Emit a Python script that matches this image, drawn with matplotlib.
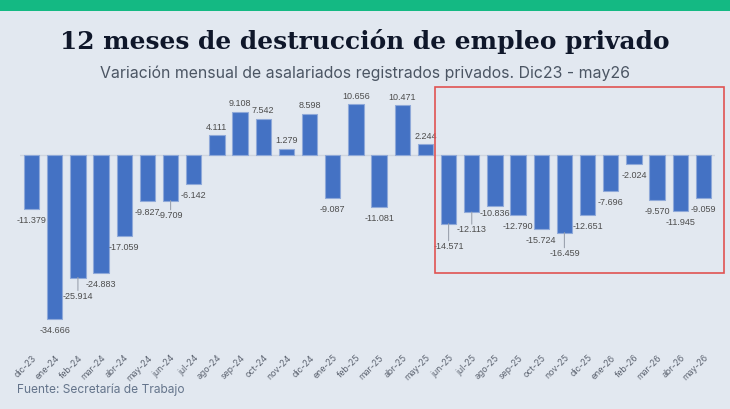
import matplotlib.pyplot as plt
import numpy as np
from matplotlib.patches import Rectangle

months = ["dic-23", "ene-24", "feb-24", "mar-24", "abr-24", "may-24", "jun-24", "jul-24",
          "ago-24", "sep-24", "oct-24", "nov-24", "dic-24", "ene-25", "feb-25", "mar-25",
          "abr-25", "may-25", "jun-25", "jul-25", "ago-25", "sep-25", "oct-25", "nov-25",
          "dic-25", "ene-26", "feb-26", "mar-26", "abr-26", "may-26"]
values = [-11379, -34666, -25914, -24883, -17059, -9827, -9709, -6142,
          4111, 9108, 7542, 1279, 8598, -9087, 10656, -11081,
          10471, 2244, -14571, -12113, -10836, -12790, -15724, -16459,
          -12651, -7696, -2024, -9570, -11945, -9059]

# extra label shift (pixels, downward) where labels were pushed apart
label_nudge = {2: 7, 6: 3, 18: 11, 19: 6, 20: -4, 23: 9}

BG = "#e2e8f0"
W, H = 730, 410
fig = plt.figure(figsize=(W / 100, H / 100), dpi=100, facecolor=BG)

# green band on top
fig.patches.append(Rectangle((0, 1 - 12 / H), 1, 12 / H, transform=fig.transFigure,
                             facecolor="#14b983", edgecolor="none", zorder=0))

fig.text(0.5, 1 - 42 / H, "12 meses de destrucción de empleo privado",
         ha="center", va="center", fontsize=17.9, fontweight="bold",
         family="DejaVu Serif", color="#0f172a")
fig.text(0.5, 1 - 73 / H, "Variación mensual de asalariados registrados privados. Dic23 - may26",
         ha="center", va="center", fontsize=11.4, family="Inter", color="#4b5563")
fig.text(17 / W, 1 - 390 / H, "Fuente: Secretaría de Trabajo",
         ha="left", va="center", fontsize=8.6, family="Inter", color="#64748b")

# axes area in pixels
x0, x1 = 20, 715
y_top, y_bot = 88, 345
ax = fig.add_axes([x0 / W, (H - y_bot) / H, (x1 - x0) / W, (y_bot - y_top) / H])
ax.set_facecolor("none")
px_per_unit = 4.74 / 1000
zero_y = 155.7
ax.set_ylim(-(y_bot - zero_y) / px_per_unit, (zero_y - y_top) / px_per_unit)
ax.set_xlim(-0.5, len(values) - 0.5)

x = np.arange(len(values))
ax.bar(x, values, width=0.66, color="#4472c4", edgecolor="#8fa9d9", linewidth=0.8, zorder=3)
ax.axhline(0, color="#cfd5de", linewidth=1, zorder=2)

for i, v in enumerate(values):
    txt = f"{v / 1000:.3f}"
    if v >= 0:
        ax.annotate(txt, (i, v), xytext=(0, 9 * 0.72), textcoords="offset points",
                    ha="center", va="center", fontsize=6.5, family="Liberation Sans",
                    color="#4d4d4d", zorder=4)
    else:
        off = 10.5 + label_nudge.get(i, 0)
        ax.annotate(txt, (i, v), xytext=(0, -off * 0.72), textcoords="offset points",
                    ha="center", va="center", fontsize=6.5, family="Liberation Sans",
                    color="#4d4d4d", zorder=4)
        if label_nudge.get(i, 0) > 0:
            ax.annotate("", (i, v), xytext=(0, -(off - 4.5) * 0.72), textcoords="offset points",
                        arrowprops=dict(arrowstyle="-", color="#9ca3af", lw=0.8,
                                        shrinkA=0, shrinkB=0))

ax.set_xticks(x)
ax.set_xticklabels(months, rotation=45, ha="right", va="top", rotation_mode="anchor",
                   fontsize=6.3, family="Inter", color="#5f6673")
ax.tick_params(axis="x", length=0, pad=6)
ax.set_yticks([])
for s in ax.spines.values():
    s.set_visible(False)

# highlight box
fig.patches.append(Rectangle((435 / W, 1 - 274 / H), (724 - 435) / W, (274 - 88) / H,
                             transform=fig.transFigure, facecolor="none",
                             edgecolor="#e05252", linewidth=1.2, zorder=5))

fig.savefig("out.png", dpi=100, facecolor=BG)
